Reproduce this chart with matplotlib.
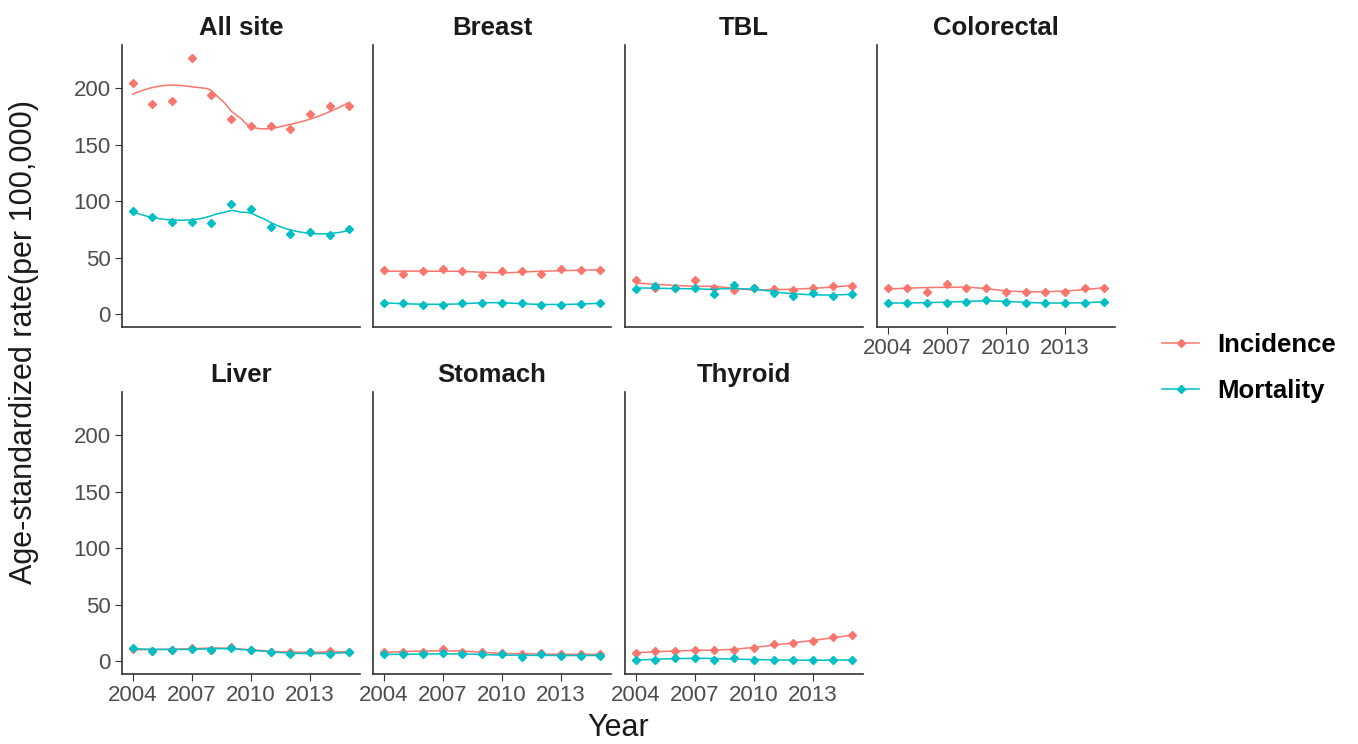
import numpy as np
import matplotlib
matplotlib.use("Agg")
from matplotlib import pyplot as plt
from matplotlib.lines import Line2D

plt.rcParams['font.family'] = ['Liberation Sans', 'DejaVu Sans']

years = np.arange(2004, 2016)
sites = ['All site', 'Breast', 'TBL', 'Colorectal', 'Liver', 'Stomach', 'Thyroid']

# values (per 100,000)
inc_all = [205, 186, 189, 227, 194, 173, 167, 167, 164, 177, 184, 184]
mor_all = [91, 86, 82, 82, 81, 98, 93, 77, 71, 73, 70, 75]
inc_breast = [39, 36, 38, 40, 38, 35, 38, 38, 36, 40, 39, 39]
mor_breast = [10, 10, 8, 8, 10, 10, 10, 10, 8, 8, 9, 10]
inc_tbl = [30, 23, 23, 30, 23, 21, 23, 22, 21, 23, 25, 25]
mor_tbl = [22, 25, 23, 23, 18, 26, 23, 19, 16, 19, 16, 18]
inc_colorectal = [23, 23, 20, 27, 23, 23, 20, 20, 20, 20, 23, 23]
mor_colorectal = [10, 10, 10, 10, 11, 13, 11, 10, 10, 10, 10, 11]
inc_liver = [11, 9, 10, 12, 10, 13, 10, 8, 8, 8, 9, 8]
mor_liver = [12, 9, 10, 11, 10, 12, 10, 8, 6, 8, 6, 8]
inc_stomach = [8, 8, 8, 11, 8, 8, 7, 6, 7, 6, 6, 6]
mor_stomach = [6, 6, 6, 7, 6, 6, 6, 4, 6, 5, 5, 5]
inc_thyroid = [7, 9, 9, 10, 10, 10, 12, 15, 16, 18, 21, 23]
mor_thyroid = [1, 1, 3, 3, 1, 3, 1, 1, 1, 1, 1, 1]

incidence = [inc_all, inc_breast, inc_tbl, inc_colorectal, inc_liver, inc_stomach, inc_thyroid]
mortality = [mor_all, mor_breast, mor_tbl, mor_colorectal, mor_liver, mor_stomach, mor_thyroid]

c_inc = '#F8766D'
c_mor = '#00BFC4'


def loess(x, y, xs, span=0.75, deg=2):
    # local polynomial fit with tricube weights (smooth line like geom_smooth)
    x = np.asarray(x, float)
    y = np.asarray(y, float)
    n = len(x)
    q = int(np.ceil(span * n))
    out = []
    for x0 in xs:
        d = np.abs(x - x0)
        h = np.sort(d)[q - 1] * 1.0001
        w = (1 - (d / h) ** 3) ** 3
        w[d >= h] = 0
        A = np.vstack([(x - x0) ** k for k in range(deg + 1)]).T
        W = np.diag(w)
        beta = np.linalg.lstsq(A.T @ W @ A, A.T @ W @ y, rcond=None)[0]
        out.append(beta[0])
    return np.array(out)


W_, H_ = 1358, 744
fig = plt.figure(figsize=(W_ / 100, H_ / 100), dpi=100)

lefts = [122, 373, 625, 877]
tops = [45, 392]
pw, ph = 238, 282

xs = np.linspace(2004, 2015, 80)
ymax = 227
for i, site in enumerate(sites):
    r, c = divmod(i, 4)
    ax = fig.add_axes([lefts[c] / W_, 1 - (tops[r] + ph) / H_, pw / W_, ph / H_])
    for vals, col in [(incidence[i], c_inc), (mortality[i], c_mor)]:
        ax.plot(xs, loess(years, vals, xs), color=col, lw=1.1)
        ax.plot(years, vals, 'D', color=col, ms=4.5, mec=col)
    ax.set_xlim(2004 - 0.55, 2015 + 0.55)
    ax.set_ylim(-0.05 * ymax, ymax * 1.05)
    ax.set_title(site, fontsize=18.5, fontweight='bold', color='#1A1A1A', pad=7)
    for s in ['top', 'right']:
        ax.spines[s].set_visible(False)
    for s in ['left', 'bottom']:
        ax.spines[s].set_color('#333333')
        ax.spines[s].set_linewidth(1.2)
    ax.set_yticks([0, 50, 100, 150, 200])
    ax.set_xticks([2004, 2007, 2010, 2013])
    ax.tick_params(colors='#333333', labelcolor='#4D4D4D', labelsize=16, length=5, pad=3)
    if c != 0:
        ax.tick_params(axis='y', left=False, labelleft=False)
    if r == 0 and c != 3:
        ax.tick_params(axis='x', bottom=False, labelbottom=False)

fig.text(24 / W_, 1 - 342 / H_, 'Age-standardized rate(per 100,000)', rotation=90,
         ha='center', va='center', fontsize=22, color='#1A1A1A')
fig.text(618 / W_, 1 - 728 / H_, 'Year', ha='center', va='center', fontsize=22, color='#1A1A1A')

handles = [Line2D([], [], color=c_inc, marker='D', ms=4, lw=1.1),
           Line2D([], [], color=c_mor, marker='D', ms=4, lw=1.1)]
fig.legend(handles, ['Incidence', 'Mortality'], loc='center left',
           bbox_to_anchor=(1162 / W_, 1 - 368 / H_), frameon=False,
           prop={'weight': 'bold', 'size': 18.5}, labelspacing=0.85, handlelength=1.45,
           handletextpad=0.7, borderpad=0, borderaxespad=0)

fig.savefig('out.png', dpi=100)
